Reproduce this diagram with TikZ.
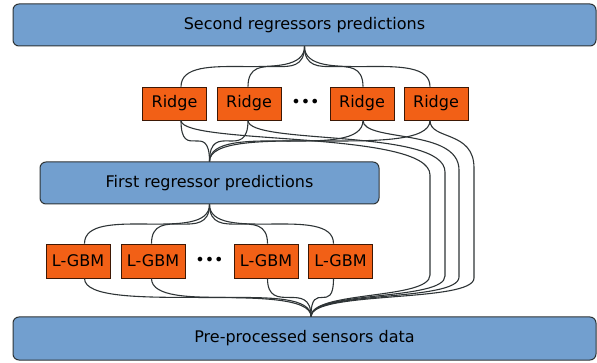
\documentclass[tikz,border=0pt]{standalone}
\usepackage{fontspec}
\setmainfont{DejaVu Sans}
\definecolor{boxblue}{HTML}{729FCF}
\definecolor{boxorange}{HTML}{F26016}
\definecolor{linec}{HTML}{2E3436}
\begin{document}
\begin{tikzpicture}[x=1pt,y=-1pt,
  bigbox/.style={draw=linec, line width=1pt, fill=boxblue, rounded corners=6pt, inner sep=0pt, font=\fontsize{16}{19}\selectfont},
  model/.style={draw=black!75!boxorange, line width=0.8pt, fill=boxorange, inner sep=0pt, minimum height=33pt, minimum width=64pt, font=\fontsize{16}{19}\selectfont},
  link/.style={draw=linec, line width=1.1pt},
  dotsnode/.style={font=\fontsize{16}{16}\selectfont, inner sep=0pt}]
\useasboundingbox (0,0) rectangle (597,363);
% big boxes
\node[bigbox, minimum width=583pt, minimum height=42pt] (top) at (304.5,25) {Second regressors predictions};
\node[bigbox, minimum width=339pt, minimum height=42pt] (first) at (209.5,183) {First regressor predictions};
\node[bigbox, minimum width=583pt, minimum height=43pt] (bot) at (304.5,338.5) {Pre-processed sensors data};
% ridge models
\node[model] (r1) at (174.5,103.5) {Ridge};
\node[model] (r2) at (249,103.5) {Ridge};
\node[model] (r3) at (362,103.5) {Ridge};
\node[model] (r4) at (436,103.5) {Ridge};
\node[dotsnode] (rd) at (305.5,103.5) {•••};
% lgbm models
\node[model, minimum height=34pt] (l1) at (78,261) {L-GBM};
\node[model, minimum height=34pt] (l2) at (153,261) {L-GBM};
\node[model, minimum height=34pt] (l3) at (266,261) {L-GBM};
\node[model, minimum height=34pt] (l4) at (340.5,261) {L-GBM};
\node[dotsnode] (ld) at (209.5,261) {•••};
% attach points
\coordinate (r1t) at ([xshift=6.5pt]r1.north);
\coordinate (r2t) at ([xshift=-1pt]r2.north);
\coordinate (r3t) at ([xshift=1pt]r3.north);
\coordinate (r4t) at ([xshift=-6pt]r4.north);
\coordinate (r1b) at ([xshift=6.5pt]r1.south);
\coordinate (r2b) at ([xshift=-1pt]r2.south);
\coordinate (r3b) at ([xshift=1pt]r3.south);
\coordinate (r4b) at ([xshift=-6pt]r4.south);
\coordinate (l1t) at ([xshift=6.5pt]l1.north);
\coordinate (l2t) at ([xshift=-1.5pt]l2.north);
\coordinate (l3t) at ([xshift=1.5pt]l3.north);
\coordinate (l4t) at ([xshift=-7pt]l4.north);
\coordinate (l1b) at ([xshift=6.5pt]l1.south);
\coordinate (l2b) at ([xshift=-1.5pt]l2.south);
\coordinate (l3b) at ([xshift=1.5pt]l3.south);
\coordinate (l4b) at ([xshift=-7pt]l4.south);
\coordinate (hbot) at ([xshift=6.5pt]bot.north);
% top links
\foreach \r in {r1t,r2t,r3t,r4t}
  \draw[link] (top.south) .. controls +(0,41) and +(0,-41) .. (\r);
% ridge -> first
\foreach \r in {r1b,r2b,r3b,r4b}
  \draw[link] (\r) .. controls +(0,42) and +(0,-42) .. (first.north);
% ridge -> bottom data (routed right)
\draw[link] (r1b) .. controls +(0,25) and +(0,-45) .. (430,175) -- (430,275) .. controls +(0,25) and +(0,-26) .. (hbot);
\draw[link] (r2b) .. controls +(0,25) and +(0,-44) .. (445,172) -- (445,276) .. controls +(0,25) and +(0,-26) .. (hbot);
\draw[link] (r3b) .. controls +(0,22) and +(0,-42) .. (459,170) -- (459,277) .. controls +(0,25) and +(0,-26) .. (hbot);
\draw[link] (r4b) .. controls +(0,20) and +(0,-38) .. (474,168) -- (474,278) .. controls +(0,25) and +(0,-26) .. (hbot);
% lgbm -> first
\foreach \l in {l1t,l2t,l3t,l4t}
  \draw[link] (first.south) .. controls +(0,40) and +(0,-40) .. (\l);
% lgbm -> bottom
\foreach \l in {l1b,l2b,l3b,l4b}
  \draw[link] (\l) .. controls +(0,38) and +(0,-38) .. (hbot);
\end{tikzpicture}
\end{document}
